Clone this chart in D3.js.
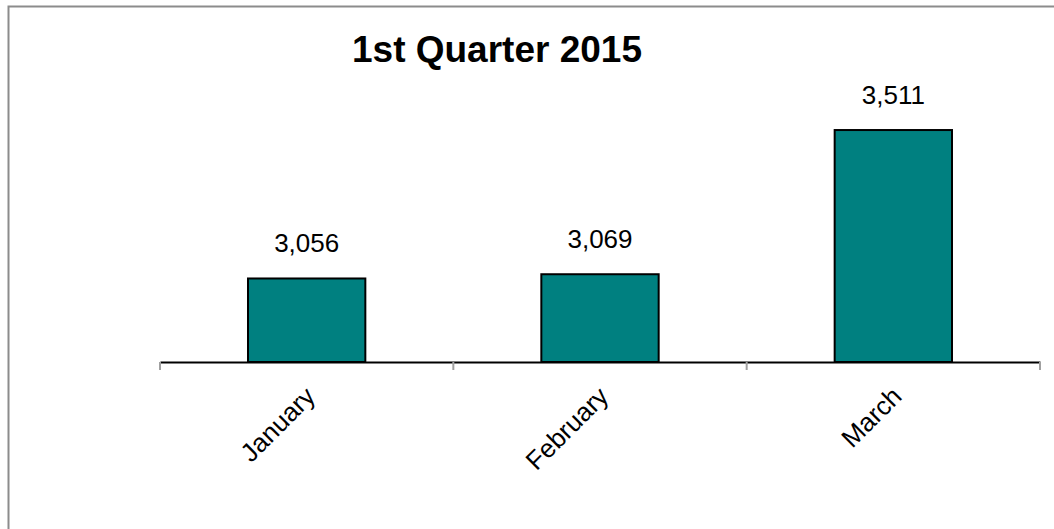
<!DOCTYPE html>
<html>
<head>
<meta charset="utf-8">
<script src="https://cdn.jsdelivr.net/npm/d3@7"></script>
<style>
  html, body { margin: 0; padding: 0; background: #fff; overflow: hidden; }
  svg { display: block; font-family: "Liberation Sans", Arial, sans-serif; }
</style>
</head>
<body>
<svg id="chart" width="1054" height="529"></svg>
<script>
// Monthly totals for the first quarter
const months = ["January", "February", "March"];
const totals = [3056, 3069, 3511];
const chartTitle = "1st Quarter 2015";
const yMin = 2800, yMax = 3600;

const svg = d3.select("#chart");
const W = 1054, H = 529;

// Outer frame (runs off the right and bottom edges)
svg.append("rect")
  .attr("x", 8.5).attr("y", 6.5)
  .attr("width", W).attr("height", H)
  .attr("fill", "none").attr("stroke", "#8c8c8c").attr("stroke-width", 2);

const plot = { left: 160, right: 1040, top: 101, bottom: 362 };

const x = d3.scaleBand()
  .domain(months)
  .range([plot.left, plot.right])
  .paddingInner(0.6)
  .paddingOuter(0.3);

const y = d3.scaleLinear()
  .domain([yMin, yMax])
  .range([plot.bottom, plot.top]);

// Title
svg.append("text")
  .attr("x", 497).attr("y", 62)
  .attr("text-anchor", "middle")
  .attr("font-size", 37).attr("font-weight", "bold")
  .attr("fill", "#000")
  .text(chartTitle);

// Bars
svg.append("g").selectAll("rect")
  .data(months)
  .join("rect")
  .attr("x", d => x(d))
  .attr("width", x.bandwidth())
  .attr("y", (d, i) => y(totals[i]))
  .attr("height", (d, i) => y(yMin) - y(totals[i]))
  .attr("fill", "#008080")
  .attr("stroke", "#000")
  .attr("stroke-width", 2);

// Value labels
const fmt = d3.format(",");
svg.append("g").selectAll("text")
  .data(months)
  .join("text")
  .attr("x", d => x(d) + x.bandwidth() / 2)
  .attr("y", (d, i) => y(totals[i]) - 26)
  .attr("text-anchor", "middle")
  .attr("font-size", 26)
  .attr("fill", "#000")
  .text((d, i) => fmt(totals[i]));

// Category axis
const axis = d3.axisBottom(x).tickSize(0).tickSizeOuter(0);
const gx = svg.append("g")
  .attr("transform", `translate(0,${plot.bottom})`)
  .call(axis);
gx.select(".domain").attr("stroke", "#000").attr("stroke-width", 2);

// Tick marks sit between categories
const bounds = d3.range(months.length + 1).map(i => plot.left + i * x.step());
gx.selectAll(".sep")
  .data(bounds)
  .join("line")
  .attr("class", "sep")
  .attr("x1", d => d).attr("x2", d => d)
  .attr("y1", 0).attr("y2", 8)
  .attr("stroke", "#a0a0a0").attr("stroke-width", 2);

gx.selectAll(".tick text")
  .attr("font-family", "Liberation Sans, Arial, sans-serif")
  .attr("font-size", 26)
  .attr("fill", "#000")
  .attr("text-anchor", "end")
  .attr("dy", null)
  .attr("y", 0)
  .attr("transform", "translate(10,36) rotate(-45)");
</script>
</body>
</html>
